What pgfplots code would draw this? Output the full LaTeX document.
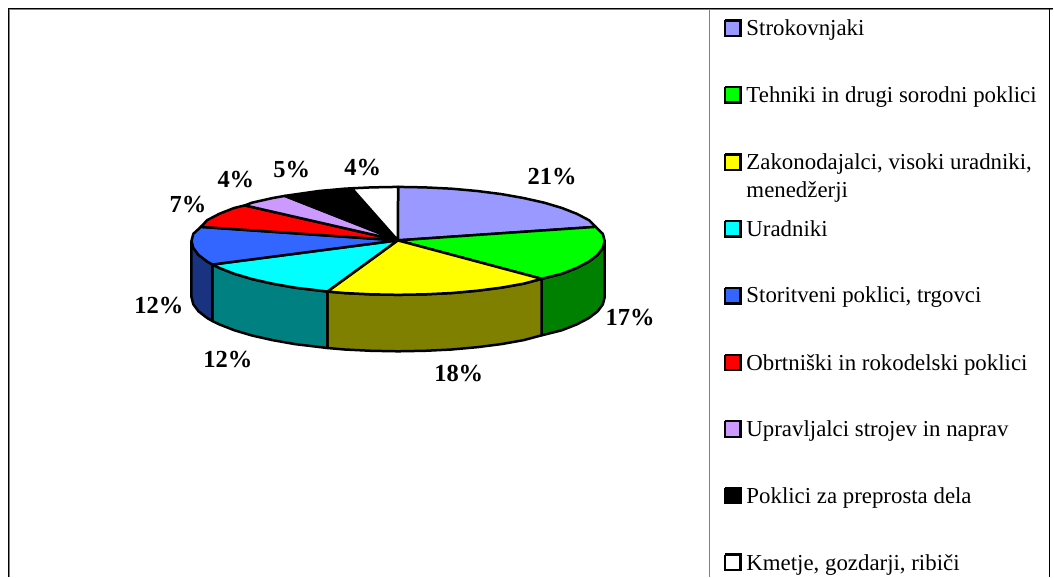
\documentclass[border=0pt]{standalone}
\usepackage{pgfplots}
\pgfplotsset{compat=1.18}
\usepackage{fontspec}
\setmainfont{Liberation Serif}
\definecolor{c1}{RGB}{153,153,255}
\definecolor{c2}{RGB}{0,255,0}
\definecolor{c3}{RGB}{255,255,0}
\definecolor{c4}{RGB}{0,255,255}
\definecolor{c5}{RGB}{51,102,255}
\definecolor{c6}{RGB}{255,0,0}
\definecolor{c7}{RGB}{204,153,255}
\definecolor{d2}{RGB}{0,128,0}
\definecolor{d3}{RGB}{128,128,0}
\definecolor{d4}{RGB}{0,128,128}
\definecolor{d5}{RGB}{25,51,128}
\definecolor{rule1}{RGB}{130,130,130}
\pgfplotsset{
  slice/.style={draw=black,line width=2.5pt,line join=round,fill=#1,mark=none},
  key/.style={draw=black,line width=2.4pt,fill=#1,mark=none},
}
\newcommand{\lab}[3]{\node[font=\fontsize{24.5}{26}\selectfont\bfseries,inner sep=0pt] at (axis cs:#1,#2) {#3};}
\newcommand{\leg}[2]{\node[font=\fontsize{22.85}{27}\selectfont,anchor=base west,inner sep=0pt,align=left] at (axis cs:746.7,#1) {#2};}
\begin{document}
\begin{tikzpicture}
\begin{axis}[
  width=1054pt,height=577pt,scale only axis,
  xmin=0,xmax=1054,ymin=0,ymax=577,y dir=reverse,
  axis lines=none,clip=false,
]
\path[draw=white,line width=0pt] (axis cs:0,0) rectangle (axis cs:1054,577);
% frame
\addplot[draw=rule1,line width=0.8pt,mark=none] coordinates {(9.9,577) (9.9,9.9) (1054,9.9)};
\addplot[draw=black,line width=1.2pt,mark=none] coordinates {(8.8,577) (8.8,8.8) (1054,8.8)};
\addplot[draw=black,line width=1.2pt,mark=none] coordinates {(1050,8.8) (1050,577)};
\addplot[draw=rule1,line width=1pt,mark=none] coordinates {(709.5,9) (709.5,577)};
% side walls
\addplot[slice=d2] coordinates {(605,241) (603.2,248) (598,255) (589.3,261.7) (577.3,268) (562.3,273.9) (542,279) (542,335.5) (562.3,330.4) (577.3,324.5) (589.3,318.2) (598,311.5) (603.2,304.5) (605,297.5) (605,241)};
\addplot[slice=d3] coordinates {(542,279) (524.1,283.8) (501.7,287.8) (477.4,290.9) (451.8,293.2) (425.3,294.5) (398.3,295) (371.3,294.5) (344.8,293.2) (327.6,291.7) (327.6,348.2) (344.8,349.7) (371.3,351) (398.3,351.5) (425.3,351) (451.8,349.7) (477.4,347.4) (501.7,344.3) (524.1,340.3) (542,335.5) (542,279)};
\addplot[slice=d4] coordinates {(327.6,291.7) (295,287.8) (272.5,283.8) (252.1,279.2) (234.3,273.9) (219.3,268) (212.5,264.7) (212.5,321.2) (219.3,324.5) (234.3,330.4) (252.1,335.7) (272.5,340.3) (295,344.3) (327.6,348.2) (327.6,291.7)};
\addplot[slice=d5] coordinates {(212.5,264.7) (207.3,261.7) (198.6,255) (193.4,248) (191.6,241) (191.6,297.5) (193.4,304.5) (198.6,311.5) (207.3,318.2) (212.5,321.2) (212.5,264.7)};
% top slices
\addplot[slice=c1] coordinates {(398,240.5) (398.3,187) (425.3,187.5) (451.8,188.8) (477.4,191.1) (501.7,194.2) (524.1,198.2) (544.5,202.8) (562.3,208.1) (577.3,214) (589.3,220.3) (596,227) (398,240.5)};
\addplot[slice=c2] coordinates {(398,240.5) (596,227) (603.2,234) (605,241) (603.2,248) (598,255) (589.3,261.7) (577.3,268) (562.3,273.9) (542,279) (398,240.5)};
\addplot[slice=c3] coordinates {(398,240.5) (542,279) (524.1,283.8) (501.7,287.8) (477.4,290.9) (451.8,293.2) (425.3,294.5) (398.3,295) (371.3,294.5) (344.8,293.2) (327.6,291.7) (398,240.5)};
\addplot[slice=c4] coordinates {(398,240.5) (327.6,291.7) (295,287.8) (272.5,283.8) (252.1,279.2) (234.3,273.9) (219.3,268) (212.5,264.7) (398,240.5)};
\addplot[slice=c5] coordinates {(398,240.5) (212.5,264.7) (207.3,261.7) (198.6,255) (193.4,248) (191.6,241) (193.4,234) (201,227) (398,240.5)};
\addplot[slice=c6] coordinates {(398,240.5) (201,227) (207.3,220.3) (219.3,214) (234.3,208.1) (245,205.5) (398,240.5)};
\addplot[slice=c7] coordinates {(398,240.5) (245,205.5) (252.1,202.8) (272.5,198.2) (285,196) (398,240.5)};
\addplot[slice=black] coordinates {(398,240.5) (285,196) (319.2,191.1) (344.8,188.8) (352,188.4) (398,240.5)};
\addplot[slice=white] coordinates {(398,240.5) (352,188.4) (371.3,187.5) (398.3,187) (398,240.5)};
% legend keys
\addplot[key=c1] coordinates {(725.5,20.5) (741,20.5) (741,36) (725.5,36) (725.5,20.5)};
\addplot[key=c2] coordinates {(725.5,87) (741,87) (741,102.5) (725.5,102.5) (725.5,87)};
\addplot[key=c3] coordinates {(725.5,154.5) (741,154.5) (741,170) (725.5,170) (725.5,154.5)};
\addplot[key=c4] coordinates {(725.5,221) (741,221) (741,236.5) (725.5,236.5) (725.5,221)};
\addplot[key=c5] coordinates {(725.5,288) (741,288) (741,303.5) (725.5,303.5) (725.5,288)};
\addplot[key=c6] coordinates {(725.5,355) (741,355) (741,370.5) (725.5,370.5) (725.5,355)};
\addplot[key=c7] coordinates {(725.5,421.5) (741,421.5) (741,437) (725.5,437) (725.5,421.5)};
\addplot[key=black] coordinates {(725.5,488) (741,488) (741,503.5) (725.5,503.5) (725.5,488)};
\addplot[key=white] coordinates {(725.5,555) (741,555) (741,570.5) (725.5,570.5) (725.5,555)};
% legend text
\leg{36}{Strokovnjaki}
\leg{103}{Tehniki in drugi sorodni poklici}
\leg{170}{Zakonodajalci, visoki uradniki,}
\leg{198}{menedžerji}
\leg{237}{Uradniki}
\leg{303}{Storitveni poklici, trgovci}
\leg{371}{Obrtniški in rokodelski poklici}
\leg{437}{Upravljalci strojev in naprav}
\leg{504}{Poklici za preprosta dela}
\leg{571}{Kmetje, gozdarji, ribiči}
% data labels
\lab{552.5}{177}{21\%}
\lab{630.5}{318}{17\%}
\lab{459}{374}{18\%}
\lab{228}{360}{12\%}
\lab{159}{306}{12\%}
\lab{188}{205}{7\%}
\lab{236}{180}{4\%}
\lab{292}{170}{5\%}
\lab{363}{168}{4\%}
\end{axis}
\end{tikzpicture}
\end{document}
